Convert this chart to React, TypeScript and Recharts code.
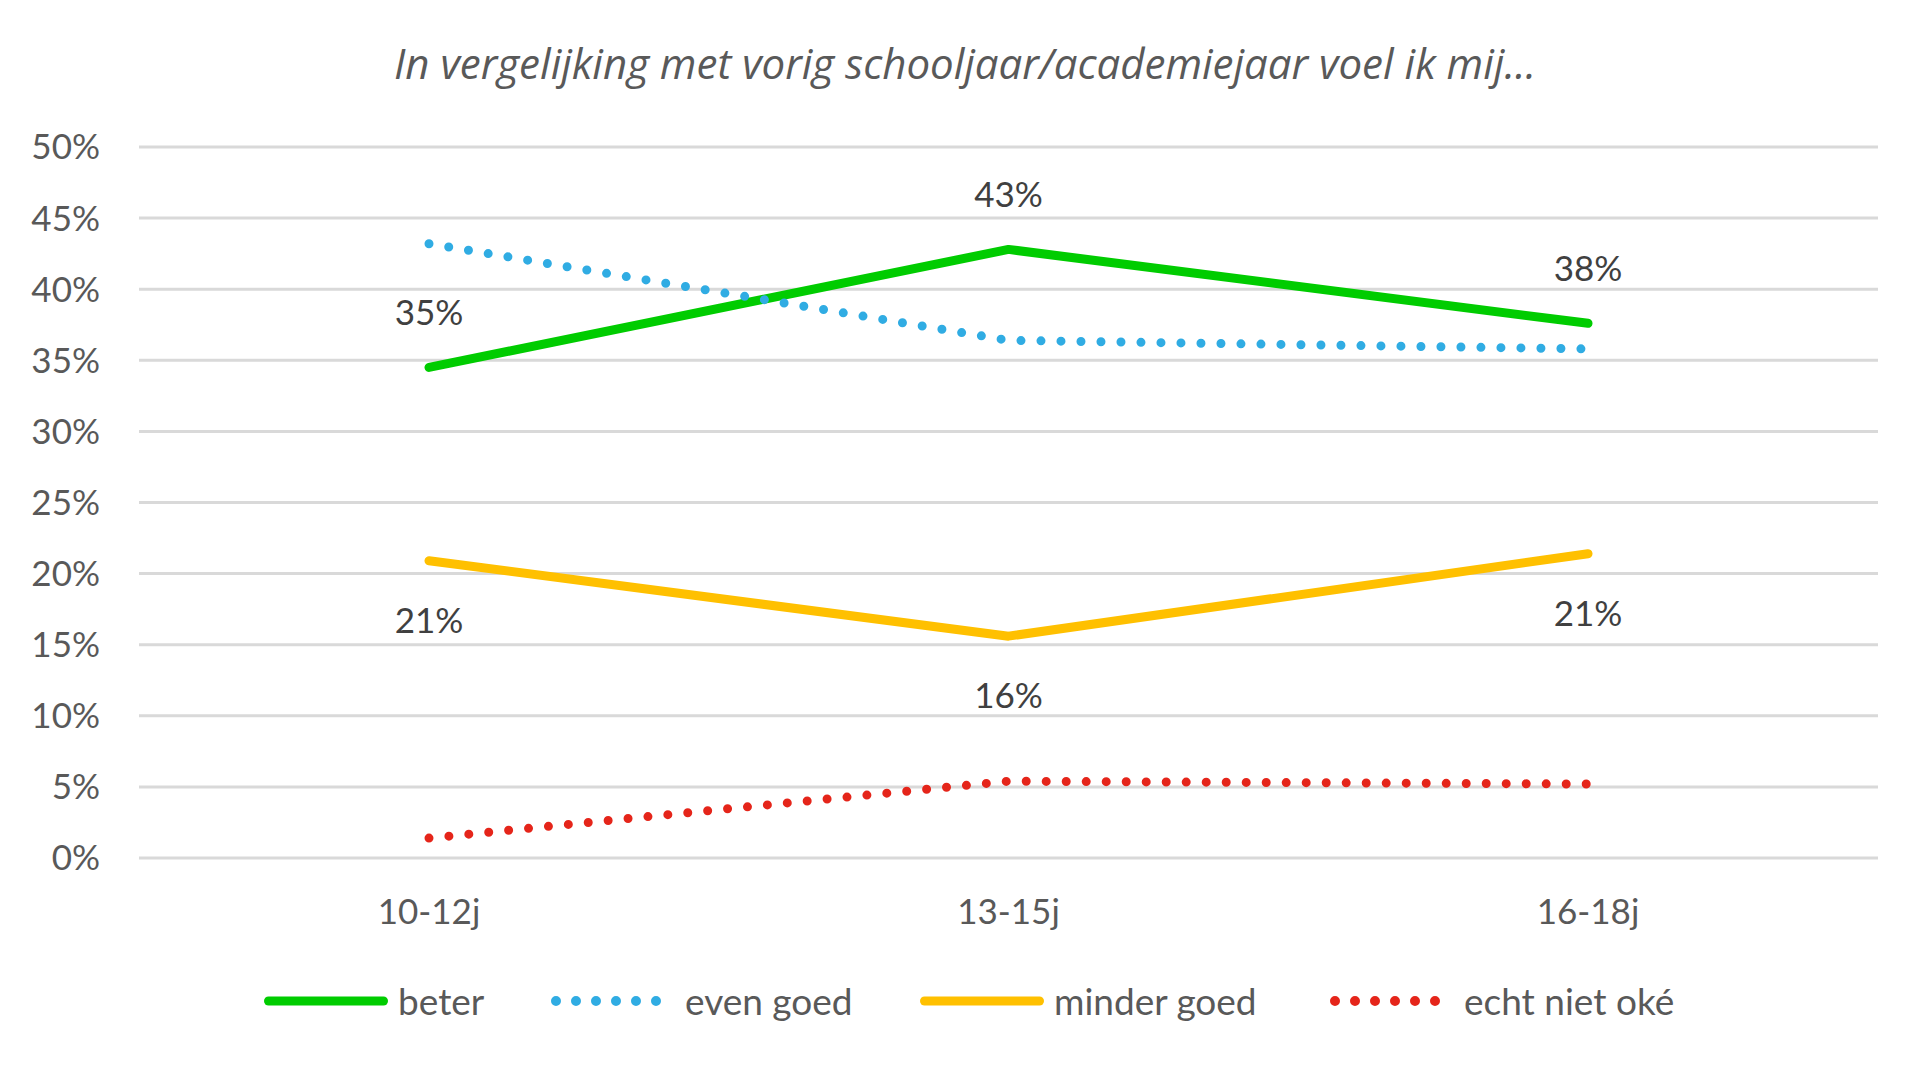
import React from "react";
import { LineChart, Line, XAxis, YAxis, CartesianGrid, LabelList } from "recharts";

const ageGroups = ["10-12j", "13-15j", "16-18j"];
const beter = [34.5, 42.8, 37.6];
const evenGoed = [43.2, 36.4, 35.8];
const minderGoed = [20.9, 15.6, 21.4];
const echtNietOke = [1.4, 5.4, 5.2];
const yTicks = [0, 5, 10, 15, 20, 25, 30, 35, 40, 45, 50];

const title = "In vergelijking met vorig schooljaar/academiejaar voel ik mij...";

const series = [
  { key: "beter", name: "beter", color: "#00CC00", dotted: false },
  { key: "evenGoed", name: "even goed", color: "#30ACE3", dotted: true },
  { key: "minderGoed", name: "minder goed", color: "#FFC000", dotted: false },
  { key: "echtNietOke", name: "echt niet oké", color: "#E5251A", dotted: true },
];
// left edge of each legend entry
const legendLeft = [259, 549, 915, 1328];

const data = ageGroups.map((group, i) => ({
  group,
  beter: beter[i],
  evenGoed: evenGoed[i],
  minderGoed: minderGoed[i],
  echtNietOke: echtNietOke[i],
}));

const font = "Lato, 'Open Sans', sans-serif";
const pct = (v: any) => `${Math.round(Number(v))}%`;

function LegendIcon({ color, dotted }: { color: string; dotted: boolean }) {
  return dotted ? (
    <svg width={136} height={14} style={{ display: "block" }}>
      <line x1={7} y1={7} x2={109} y2={7} stroke={color} strokeWidth={10}
        strokeLinecap="round" strokeDasharray="0 20" />
    </svg>
  ) : (
    <svg width={139} height={14} style={{ display: "block" }}>
      <line x1={9.5} y1={7} x2={124.5} y2={7} stroke={color} strokeWidth={9} strokeLinecap="round" />
    </svg>
  );
}

export default function App() {
  return (
    <div style={{ position: "absolute", left: 0, top: 0, width: 1929, height: 1070, background: "#fff", fontFamily: font }}>
      <div style={{ position: "absolute", top: 42, left: 0, width: 1930, textAlign: "center",
        fontSize: 42, lineHeight: "42px", fontStyle: "italic", color: "#595959",
        fontFamily: "'Open Sans', sans-serif" }}>
        {title}
      </div>
      <LineChart width={1929} height={1070} data={data}
        margin={{ top: 147, right: 51, left: 0, bottom: 152 }}>
        <CartesianGrid vertical={false} stroke="#D9D9D9" strokeWidth={3} />
        <XAxis dataKey="group" axisLine={false} tickLine={false} tickSize={0} tickMargin={41} height={60}
          padding={{ left: 290, right: 290 }}
          tick={{ fill: "#595959", fontSize: 35, fontFamily: font }} />
        <YAxis domain={[0, 50]} ticks={yTicks} width={139} axisLine={false} tickLine={false}
          tickSize={0} tickMargin={39} tickFormatter={(v) => `${v}%`}
          tick={{ fill: "#595959", fontSize: 35, fontFamily: font }} />
        {series.map((s) => (
          <Line key={s.key} type="linear" dataKey={s.key} name={s.name} stroke={s.color}
            strokeWidth={9} strokeLinecap="round" strokeLinejoin="round"
            strokeDasharray={s.dotted ? "0 20" : undefined} dot={false} activeDot={false}
            isAnimationActive={false}>
            {s.key === "beter" && (
              <LabelList dataKey={s.key} position="top" offset={42} formatter={pct}
                style={{ fill: "#404040", fontSize: 35, fontFamily: font }} />
            )}
            {s.key === "minderGoed" && (
              <LabelList dataKey={s.key} position="bottom" offset={47} formatter={pct}
                style={{ fill: "#404040", fontSize: 35, fontFamily: font }} />
            )}
          </Line>
        ))}
      </LineChart>
      {series.map((s, i) => (
        <div key={s.key} style={{ position: "absolute", top: 980, left: legendLeft[i], height: 42,
          display: "flex", alignItems: "center" }}>
          <LegendIcon color={s.color} dotted={s.dotted} />
          <span style={{ fontSize: 37, color: "#595959", lineHeight: "42px", whiteSpace: "nowrap" }}>{s.name}</span>
        </div>
      ))}
    </div>
  );
}
